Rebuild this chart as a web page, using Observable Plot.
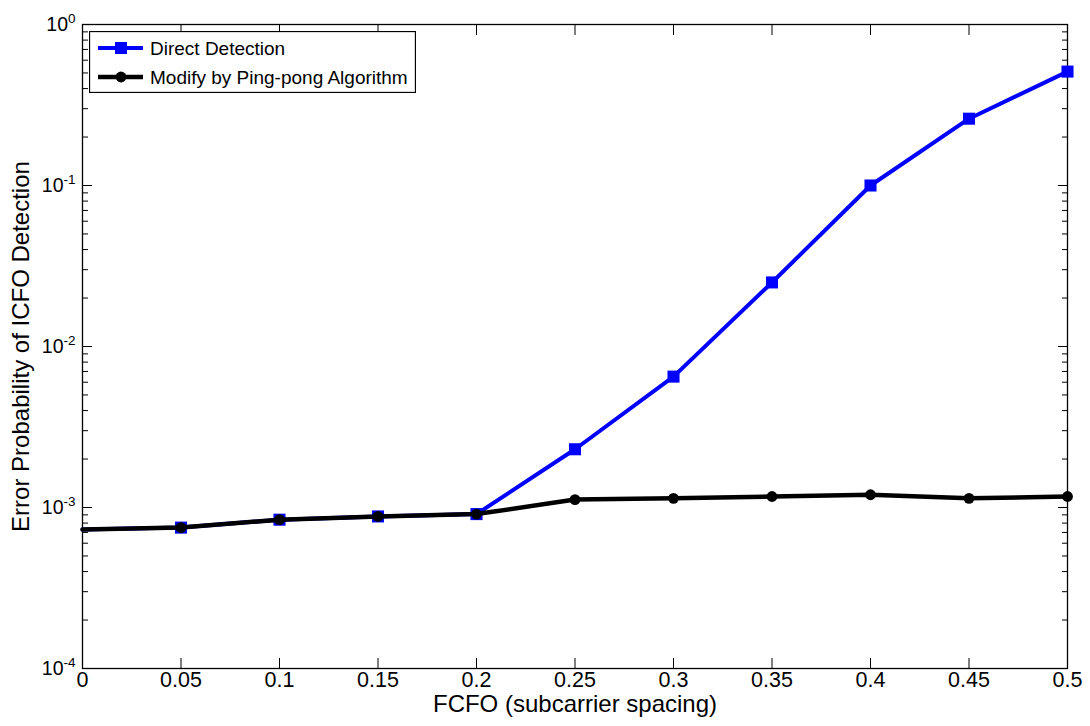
<!DOCTYPE html>
<html>
<head>
<meta charset="utf-8">
<script src="https://cdn.jsdelivr.net/npm/d3@7"></script>
<script src="https://cdn.jsdelivr.net/npm/@observablehq/plot@0.6"></script>
<style>
  html, body { margin: 0; padding: 0; background: #fff; }
  #wrap { position: relative; width: 1090px; height: 726px; font-family: "Liberation Sans", Arial, sans-serif; }
  #legend { position: absolute; left: 89px; top: 31px; }
</style>
</head>
<body>
<div id="wrap"></div>
<script>
// ---- data ----
const fcfo = [0, 0.05, 0.1, 0.15, 0.2, 0.25, 0.3, 0.35, 0.4, 0.45, 0.5];
const directDetection = [7.3e-4, 7.5e-4, 8.4e-4, 8.8e-4, 9.1e-4, 2.3e-3, 6.5e-3, 2.5e-2, 0.1, 0.26, 0.51];
const pingPong = [7.3e-4, 7.5e-4, 8.4e-4, 8.8e-4, 9.1e-4, 1.12e-3, 1.14e-3, 1.17e-3, 1.2e-3, 1.14e-3, 1.17e-3];
const seriesNames = ["Direct Detection", "Modify by Ping-pong Algorithm"];
const xTicks = [0, 0.05, 0.1, 0.15, 0.2, 0.25, 0.3, 0.35, 0.4, 0.45, 0.5];
const yTicks = [1e-4, 1e-3, 1e-2, 1e-1, 1];
const yMinorTicks = [1e-4, 1e-3, 1e-2, 1e-1].flatMap(p => [2, 3, 4, 5, 6, 7, 8, 9].map(k => k * p));
const xLabel = "FCFO (subcarrier spacing)";
const yLabel = "Error Probability of ICFO Detection";

const blue = "#0000ff", black = "#000000";
const directRows = fcfo.map((x, i) => ({x, y: directDetection[i]}));
const pingRows = fcfo.map((x, i) => ({x, y: pingPong[i]}));

const blankFmt = () => "";
const chart = Plot.plot({
  width: 1090, height: 726,
  marginLeft: 82, marginRight: 23, marginTop: 24, marginBottom: 58,
  style: {fontFamily: '"Liberation Sans", Arial, sans-serif', background: "#fff", color: "#000"},
  x: {domain: [0, 0.5]},
  y: {type: "log", domain: [1e-4, 1]},
  marks: [
    Plot.axisX(xTicks, {anchor: "bottom", tickSize: 0, tickPadding: 3, fontSize: 21.5, tickFormat: d => String(d), label: null}),
    Plot.axisX(xTicks, {anchor: "bottom", tickSize: -10, tickFormat: blankFmt, label: null}),
    Plot.axisX(xTicks, {anchor: "top", tickSize: -10, tickFormat: blankFmt, label: null}),
    Plot.axisY(yTicks, {anchor: "left", tickSize: 0, tickPadding: 7, fontSize: 19.5, tickFormat: d => "10^" + Math.round(Math.log10(d)), label: null}),
    Plot.axisY(yTicks, {anchor: "left", tickSize: -10, tickFormat: blankFmt, label: null}),
    Plot.axisY(yTicks, {anchor: "right", tickSize: -10, tickFormat: blankFmt, label: null}),
    Plot.axisY(yMinorTicks, {anchor: "left", tickSize: -6, tickFormat: blankFmt, label: null}),
    Plot.axisY(yMinorTicks, {anchor: "right", tickSize: -6, tickFormat: blankFmt, label: null}),
    Plot.frame({stroke: "#000", strokeWidth: 1.3}),
    Plot.line(directRows, {x: "x", y: "y", stroke: blue, strokeWidth: 4}),
    Plot.dot(directRows, {x: "x", y: "y", filter: d => d.x > 0, symbol: "square", r: 6.8, fill: blue, stroke: "none"}),
    Plot.line(pingRows, {x: "x", y: "y", stroke: black, strokeWidth: 4.5}),
    Plot.dot(pingRows, {x: "x", y: "y", filter: d => d.x > 0, symbol: "circle", r: 5.4, fill: black, stroke: "none"}),
    Plot.text([xLabel], {text: d => d, frameAnchor: "bottom", textAnchor: "middle", dy: 43, fontSize: 24, fill: "#000"}),
    Plot.text([yLabel], {text: d => d, frameAnchor: "left", textAnchor: "middle", rotate: -90, dx: -61, fontSize: 24, fill: "#000"})
  ]
});

// superscript exponents on the y tick labels
d3.select(chart).selectAll('g[aria-label="y-axis tick label"] text').each(function() {
  const m = (this.textContent || "").match(/^10\^(-?\d+)$/);
  if (!m) return;
  this.textContent = "10";
  d3.select(this).append("tspan").attr("font-size", 13.5).attr("dy", -8).text(m[1]);
});

const wrap = document.getElementById("wrap");
wrap.append(chart);

// legend
const lg = d3.select(wrap).append("svg").attr("id", "legend")
  .attr("width", 327).attr("height", 62)
  .style("font-family", '"Liberation Sans", Arial, sans-serif');
lg.append("rect").attr("x", 0.5).attr("y", 0.5).attr("width", 326).attr("height", 61)
  .attr("fill", "#fff").attr("stroke", "#000").attr("stroke-width", 1.3);
const legendItems = [
  {name: seriesNames[0], color: blue, symbol: "square", w: 4},
  {name: seriesNames[1], color: black, symbol: "circle", w: 4.5}
];
legendItems.forEach((it, i) => {
  const cy = 17 + i * 29;
  lg.append("line").attr("x1", 9).attr("x2", 54).attr("y1", cy).attr("y2", cy)
    .attr("stroke", it.color).attr("stroke-width", it.w);
  if (it.symbol === "square") {
    lg.append("rect").attr("x", 32 - 6).attr("y", cy - 6).attr("width", 12).attr("height", 12).attr("fill", it.color);
  } else {
    lg.append("circle").attr("cx", 32).attr("cy", cy).attr("r", 5.4).attr("fill", it.color);
  }
  lg.append("text").attr("x", 61).attr("y", cy).attr("dy", "0.35em")
    .attr("font-size", 19).attr("fill", "#000").text(it.name);
});
</script>
</body>
</html>
